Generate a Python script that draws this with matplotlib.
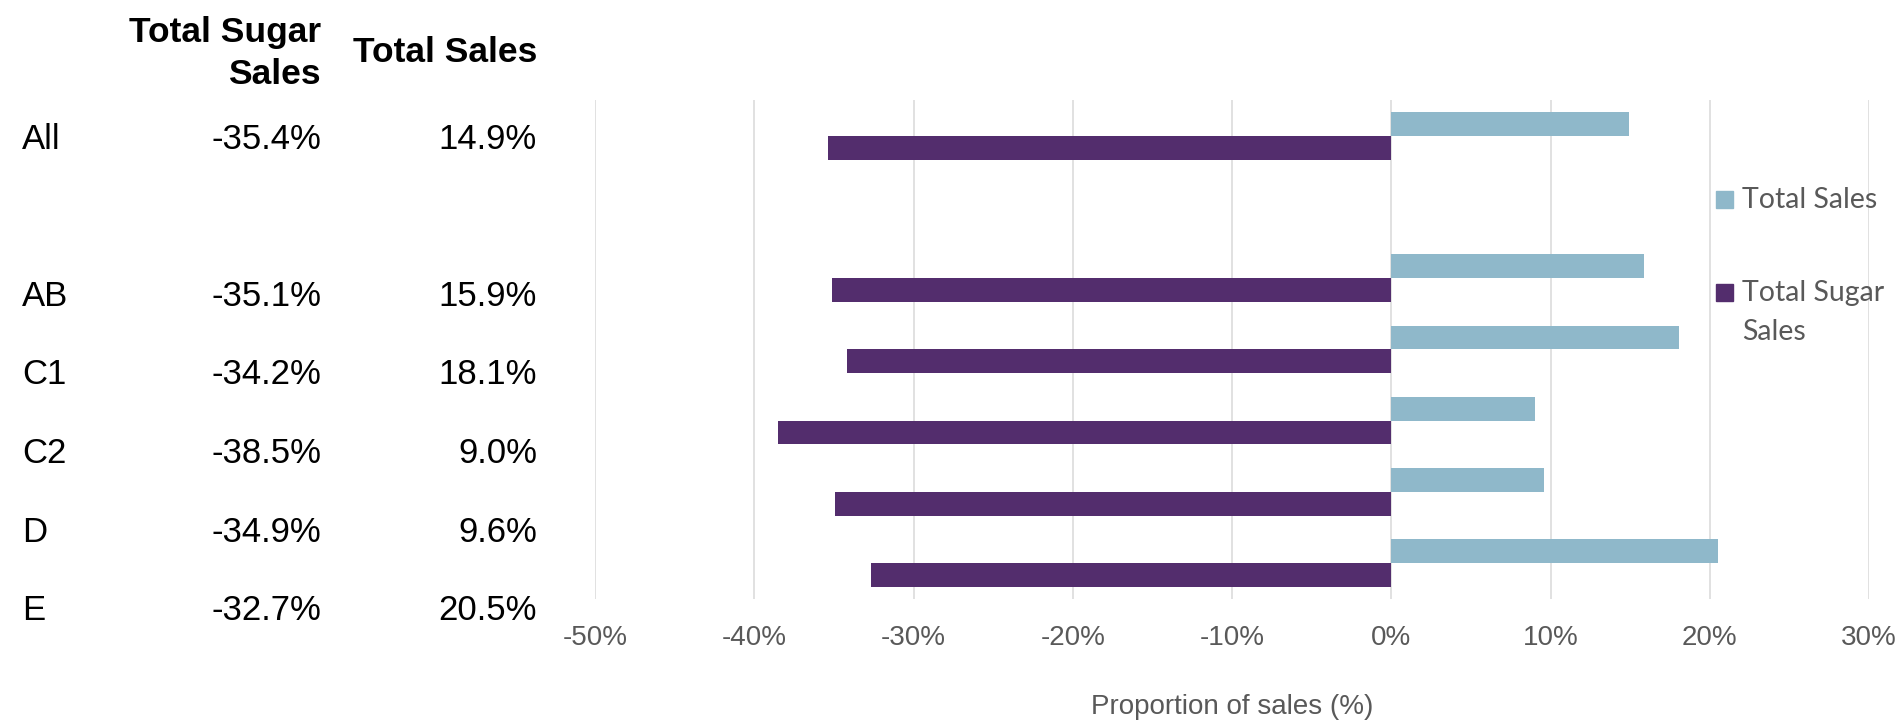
import numpy as np
import matplotlib.pyplot as plt
from matplotlib.patches import Rectangle

# rows of the chart, top to bottom ("" is the empty spacer row)
categories = ["All", "", "AB", "C1", "C2", "D", "E"]
sugar_sales = [-35.4, np.nan, -35.1, -34.2, -38.5, -34.9, -32.7]
total_sales = [14.9, np.nan, 15.9, 18.1, 9.0, 9.6, 20.5]
x_ticks = [-50, -40, -30, -20, -10, 0, 10, 20, 30]

SALES_COLOR = "#8FB8CA"
SUGAR_COLOR = "#532D6D"
GRAY = "#595959"
W, H = 1901, 725


def fx(px):
    return px / W


def fy(py):
    return 1 - py / H


fig = plt.figure(figsize=(W / 100, H / 100), dpi=100)
ax = fig.add_axes([fx(595), fy(598.5), fx(1869) - fx(595), fy(100.2) - fy(598.5)])

pos = np.arange(len(categories))
h = 0.335
ax.barh(pos - h / 2, total_sales, height=h, color=SALES_COLOR, zorder=3)
ax.barh(pos + h / 2, sugar_sales, height=h, color=SUGAR_COLOR, zorder=3)

ax.set_ylim(len(categories) - 0.5, -0.5)
ax.set_xlim(-50, 30)
ax.set_yticks([])
ax.set_xticks(x_ticks)
ax.set_xticklabels([f"{t}%" for t in x_ticks], color=GRAY, fontsize=20,
                   family="Liberation Sans")
ax.tick_params(axis="x", length=0, pad=19)
ax.grid(axis="x", color="#D9D9D9", linewidth=1.1, zorder=0)
for s in ax.spines.values():
    s.set_visible(False)

ax.set_xlabel("Proportion of sales (%)", color=GRAY, fontsize=20,
              family="Liberation Sans")
ax.xaxis.set_label_coords(0.5, -108.5 / 498.3)
ax.xaxis.label.set_va("center")

# table on the left
tf = dict(family="Liberation Sans", fontsize=25, color="black", va="center")
hf = dict(family="Liberation Sans", fontsize=25.5, color="black", va="center",
          weight="bold", ha="right")
fig.text(fx(321), fy(32.5), "Total Sugar", **hf)
fig.text(fx(321), fy(74.5), "Sales", **hf)
fig.text(fx(537), fy(52.5), "Total Sales", **hf)
for i, (cat, sg, sl) in enumerate(zip(categories, sugar_sales, total_sales)):
    if not cat:
        continue
    y = fy(139.5 + i * 78.5)
    fig.text(fx(22), y, cat, ha="left", **tf)
    fig.text(fx(321), y, f"{sg:.1f}%", ha="right", **tf)
    fig.text(fx(537), y, f"{sl:.1f}%", ha="right", **tf)

# legend
lf = dict(family=["Lato", "DejaVu Sans"], fontsize=20.5, color=GRAY, va="center")
for (label, color, ytop) in [("Total Sales", SALES_COLOR, 191),
                             ("Total Sugar\nSales", SUGAR_COLOR, 284)]:
    fig.patches.append(Rectangle((fx(1716), fy(ytop + 17)), fx(17), 17 / H,
                                 transform=fig.transFigure, color=color))
    lines = label.split("\n")
    for k, line in enumerate(lines):
        fig.text(fx(1742), fy(ytop + 8.5 + k * 40), line, ha="left", **lf)

fig.savefig("out.png", dpi=100)
